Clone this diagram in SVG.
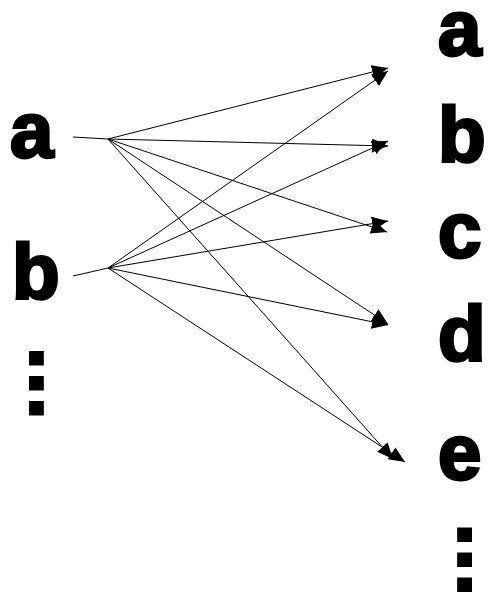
<svg xmlns="http://www.w3.org/2000/svg" width="491" height="599" viewBox="0 0 491 599">
<style>
.lbl{font-family:"Liberation Sans",Arial,sans-serif;font-weight:bold;font-size:78px;fill:#000;stroke:#000;stroke-width:3}
.dots{font-family:"Liberation Sans",Arial,sans-serif;font-weight:bold;font-size:60px;letter-spacing:8.3px;fill:#000;stroke:#000;stroke-width:6}
.e{stroke:#000;stroke-width:1;fill:none;marker-end:url(#ah)}
.s{stroke:#000;stroke-width:1;fill:none}
</style>
<defs>
<marker id="ah" markerUnits="userSpaceOnUse" markerWidth="18" markerHeight="14" refX="16" refY="7" orient="auto">
<path d="M0,0 L16,7 L0,14 Z" fill="#000"/>
</marker>
</defs>
<rect width="491" height="599" fill="#fff"/>
<g id="left-a"><text class="lbl" x="10" y="157">a</text></g>
<g id="left-b"><text class="lbl" x="12" y="299">b</text></g>
<g id="left-dots"><text class="dots" transform="translate(32,350) rotate(90)">...</text></g>
<g id="right-a"><text class="lbl" x="438" y="55">a</text></g>
<g id="right-b"><text class="lbl" x="438" y="162">b</text></g>
<g id="right-c"><text class="lbl" x="438" y="257">c</text></g>
<g id="right-d"><text class="lbl" x="438" y="361">d</text></g>
<g id="right-e"><text class="lbl" x="438" y="479">e</text></g>
<g id="right-dots"><text class="dots" transform="translate(469,593) rotate(-90)">...</text></g>
<g id="connectors">
<path class="s" d="M73,137 L108,139"/>
<path class="s" d="M73,276 L108,268"/>
<path class="e" d="M108,139 L388,68"/>
<path class="e" d="M108,139 L388,146"/>
<path class="e" d="M108,139 L387,232"/>
<path class="e" d="M108,139 L388,324"/>
<path class="e" d="M108,139 L393,459"/>
<path class="e" d="M108,268 L388,71"/>
<path class="e" d="M108,268 L388,141"/>
<path class="e" d="M108,268 L388,221"/>
<path class="e" d="M108,268 L388,325"/>
<path class="e" d="M108,268 L405,462"/>
</g>
</svg>
